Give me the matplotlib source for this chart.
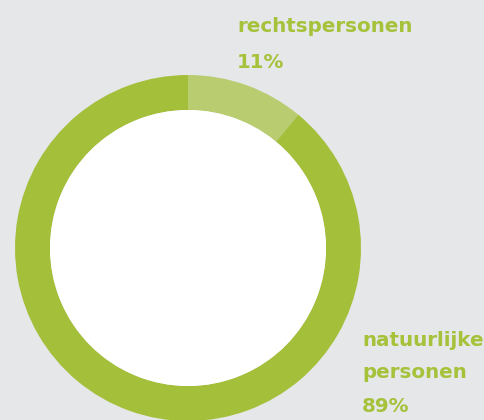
import matplotlib
matplotlib.use("Agg")
import matplotlib.pyplot as plt
from matplotlib.patches import Circle

categories = ["rechtspersonen", "natuurlijke personen"]
values = [11, 89]
label_lines = [["rechtspersonen", "11%"], ["natuurlijke", "personen", "89%"]]
colors = ["#b9cc70", "#a4bf3a"]
text_color = "#a5c23a"
bg = "#e6e7e9"

W, H = 485, 420
fig = plt.figure(figsize=(W / 100, H / 100), dpi=100)
fig.patch.set_facecolor(bg)
ax = fig.add_axes([0, 0, 1, 1])
ax.set_facecolor(bg)

cx, cy = 188, H - 248
R, r = 173, 138
ax.pie(values, colors=colors, radius=R, center=(cx, cy), startangle=90,
       counterclock=False, wedgeprops=dict(width=R - r, linewidth=0),
       frame=True)
ax.add_patch(Circle((cx, cy), r, facecolor="white", edgecolor="none", zorder=3))
ax.set_xlim(0, W)
ax.set_ylim(0, H)
ax.set_aspect("equal")
ax.axis("off")

font = dict(family=["DejaVu Sans"], weight="bold", size=14.3, color=text_color)
x1, ys1 = 237, [H - 32, H - 68]
for line, y in zip(label_lines[0], ys1):
    ax.text(x1, y, line, ha="left", va="baseline", **font)
x2, ys2 = 362, [H - 346, H - 378, H - 412]
for line, y in zip(label_lines[1], ys2):
    ax.text(x2, y, line, ha="left", va="baseline", **font)

fig.savefig("out.png", dpi=100, facecolor=bg)
